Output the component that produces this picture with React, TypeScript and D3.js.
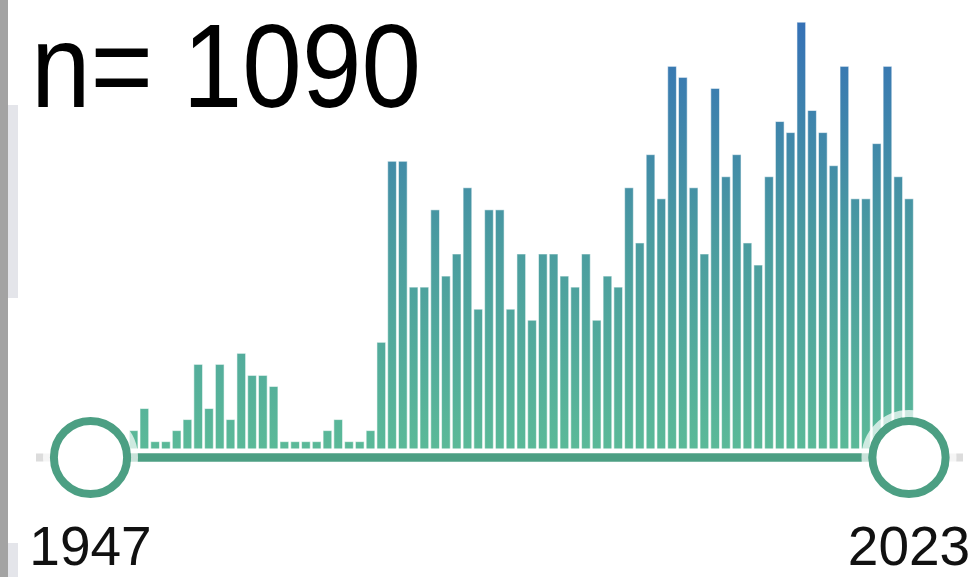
import * as d3 from 'd3';

// slider range and yearly counts (bars start at 1951)
const rangeStart = 1947;
const rangeEnd = 2023;
const firstBarYear = 1951;
const counts = [
  2, 4, 1, 1, 2, 3, 8, 4, 8, 3, 9, 7, 7, 6, 1, 1, 1, 1, 2, 3, 1, 1, 2, 10,
  26.4, 26.4, 15, 15, 22, 16, 18, 24, 13, 22, 22, 13, 18, 12, 18, 18, 16, 15, 18, 12, 16, 15, 24, 19, 27, 23,
  35, 34, 24, 18, 33, 25, 27, 19, 17, 25, 30, 29, 39, 31, 29, 26, 35, 23, 23, 28, 35, 25, 23,
];
const years = counts.map((_, i) => firstBarYear + i);
const sampleLabel = 'n= 1090';
const endLabels = [rangeStart, rangeEnd];

const width = 978;
const height = 577;
const green = '#4c9f83';
const font = "'Liberation Sans', Arial, Helvetica, sans-serif";

export default function App() {
  const x = d3.scaleLinear().domain([rangeStart, rangeEnd]).range([90.5, 909]);
  const y = d3.scaleLinear().domain([0, 39]).range([452.7, 22.2]);
  const step = x(rangeStart + 1) - x(rangeStart);
  const barW = step - 2.1;
  const trackY = 457.5;

  return (
    <div style={{ position: 'fixed', left: 0, top: 0, width, height, background: '#fff' }}>
      <svg width={width} height={height} style={{ display: 'block' }}>
        <defs>
          <linearGradient id="barGrad" gradientUnits="userSpaceOnUse" x1="0" x2="0" y1={y(0)} y2={y(39)}>
            <stop offset="0%" stopColor="#5bba98" />
            <stop offset="50%" stopColor="#4a9ba0" />
            <stop offset="100%" stopColor="#3571b6" />
          </linearGradient>
        </defs>

        {/* page edge behind the widget */}
        <rect x={0} y={0} width={8} height={height} fill="#a3a3a3" />
        <rect x={8} y={105} width={10} height={193} fill="#e4e5ea" />
        <rect x={8} y={543} width={10} height={34} fill="#e4e5ea" />

        {/* histogram */}
        <g>
          {counts.map((c, i) => (
            <rect
              key={years[i]}
              x={x(years[i]) - barW / 2}
              y={y(c)}
              width={barW}
              height={y(0) - y(c)}
              fill="url(#barGrad)"
              stroke="rgba(255,255,255,0.55)"
              strokeWidth={1}
            />
          ))}
        </g>

        {/* slider rail and selected track */}
        <line x1={36} x2={963} y1={trackY} y2={trackY} stroke="#dcdcdc" strokeWidth={8} />
        <line x1={x(rangeStart)} x2={x(rangeEnd)} y1={trackY} y2={trackY} stroke="#fff" strokeWidth={18} />
        <line x1={x(rangeStart)} x2={x(rangeEnd)} y1={trackY} y2={trackY} stroke={green} strokeWidth={8.4} />

        {/* handles */}
        {endLabels.map((yr) => (
          <g key={yr} transform={`translate(${x(yr)},${trackY})`}>
            <circle r={44} fill="none" stroke="#fff" strokeOpacity={0.7} strokeWidth={7} />
            <circle r={36.6} fill="#fff" stroke={green} strokeWidth={8} />
          </g>
        ))}

        {endLabels.map((yr) => (
          <text
            key={'l' + yr}
            x={x(yr)}
            y={565}
            textAnchor="middle"
            fontFamily={font}
            fontSize={55}
            fill="#111"
          >
            {yr}
          </text>
        ))}

        <text
          x={31}
          y={107}
          fontFamily={font}
          fontSize={118}
          fill="#000"
          textLength={390}
          lengthAdjust="spacingAndGlyphs"
        >
          {sampleLabel}
        </text>
      </svg>
    </div>
  );
}
